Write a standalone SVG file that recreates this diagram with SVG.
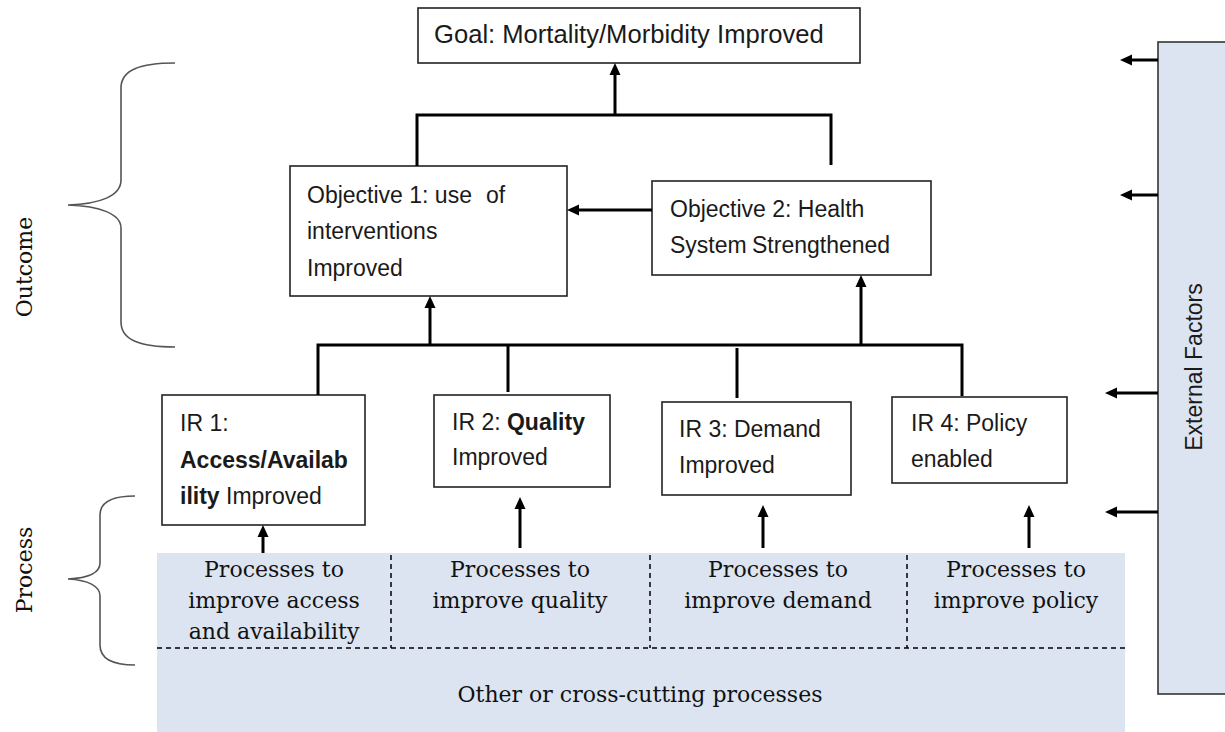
<svg xmlns="http://www.w3.org/2000/svg" width="1225" height="732" viewBox="0 0 1225 732">
<style>
.box{fill:#fff;stroke:#222;stroke-width:1.6}
.t{font-family:"Liberation Sans",Arial,sans-serif;font-size:23px;fill:#1a1a1a}
.b{font-weight:bold}
.s{font-family:"DejaVu Serif","Liberation Serif",serif;font-size:22px;fill:#111}
.c{fill:none;stroke:#000;stroke-width:3}
.d{fill:none;stroke:#000;stroke-width:1.5;stroke-dasharray:5 4}
.br{fill:none;stroke:#555;stroke-width:1.6}
.band{fill:#dbe4f0}
</style>
<defs>
<marker id="ah" viewBox="0 0 12 12" markerWidth="12" markerHeight="12" refX="5" refY="6" orient="auto" markerUnits="userSpaceOnUse">
<path d="M0,0.5 L12,6 L0,11.5 z" fill="#000"/>
</marker>
</defs>

<g id="process-band">
<rect class="band" x="157" y="553" width="968" height="179"/>
<line class="d" x1="157" y1="648" x2="1125" y2="648"/>
<line class="d" x1="391" y1="555" x2="391" y2="648"/>
<line class="d" x1="650" y1="555" x2="650" y2="648"/>
<line class="d" x1="907" y1="555" x2="907" y2="648"/>
<text class="s" text-anchor="middle"><tspan x="274" y="577">Processes to</tspan><tspan x="274" y="608">improve access</tspan><tspan x="274" y="639">and availability</tspan></text>
<text class="s" text-anchor="middle"><tspan x="520" y="577">Processes to</tspan><tspan x="520" y="608">improve quality</tspan></text>
<text class="s" text-anchor="middle"><tspan x="778" y="577">Processes to</tspan><tspan x="778" y="608">improve demand</tspan></text>
<text class="s" text-anchor="middle"><tspan x="1016" y="577">Processes to</tspan><tspan x="1016" y="608">improve policy</tspan></text>
<text class="s" x="640" y="702" text-anchor="middle">Other or cross-cutting processes</text>
</g>

<g id="external-factors">
<rect class="band" x="1158" y="42" width="80" height="652" stroke="#333" stroke-width="1.6"/>
<text class="t" transform="translate(1202,367) rotate(-90)" text-anchor="middle">External Factors</text>
</g>

<g id="outcome-brace">
<path class="br" d="M175,63 C140,63 121,70 121,88 L121,180 C121,196 100,204 68,205 C100,206 121,214 121,228 L121,322 C121,340 140,347 175,347"/>
<text class="s" transform="translate(32,267) rotate(-90)" text-anchor="middle">Outcome</text>
</g>

<g id="process-brace">
<path class="br" d="M135,496 C112,496 100,502 100,515 L100,563 C100,573 88,578 68,579 C88,580 100,586 100,596 L100,645 C100,658 112,665 135,665"/>
<text class="s" transform="translate(32,570) rotate(-90)" text-anchor="middle">Process</text>
</g>

<g id="goal">
<rect class="box" x="418" y="8" width="442" height="55"/>
<text class="t" x="434" y="43" style="font-size:25.6px">Goal: Mortality/Morbidity Improved</text>
</g>

<g id="objective1">
<rect class="box" x="290" y="166" width="277" height="130"/>
<text class="t"><tspan x="307" y="203">Objective 1: use</tspan><tspan x="486" y="203">of</tspan><tspan x="307" y="239">interventions</tspan><tspan x="307" y="276">Improved</tspan></text>
</g>

<g id="objective2">
<rect class="box" x="652" y="181" width="279" height="94"/>
<text class="t"><tspan x="670" y="217">Objective 2: Health</tspan><tspan x="670" y="253">System</tspan><tspan x="752" y="253">Strengthened</tspan></text>
</g>

<g id="ir1">
<rect class="box" x="162" y="395" width="203" height="130"/>
<text class="t"><tspan x="180" y="431">IR 1:</tspan><tspan x="180" y="468" class="b">Access/Availab</tspan><tspan x="180" y="504" class="b">ility</tspan><tspan> Improved</tspan></text>
</g>

<g id="ir2">
<rect class="box" x="434" y="395" width="176" height="92"/>
<text class="t"><tspan x="452" y="430">IR 2: </tspan><tspan class="b">Quality</tspan><tspan x="452" y="465">Improved</tspan></text>
</g>

<g id="ir3">
<rect class="box" x="662" y="402" width="189" height="93"/>
<text class="t"><tspan x="679" y="437">IR 3: Demand</tspan><tspan x="679" y="473">Improved</tspan></text>
</g>

<g id="ir4">
<rect class="box" x="892" y="397" width="175" height="86"/>
<text class="t"><tspan x="911" y="431">IR 4: Policy</tspan><tspan x="911" y="467">enabled</tspan></text>
</g>

<g id="connectors">
<line class="c" x1="615" y1="115" x2="615" y2="70" marker-end="url(#ah)"/>
<path class="c" d="M417,166 V115 H831 V165"/>
<line class="c" x1="652" y1="210" x2="574" y2="210" marker-end="url(#ah)"/>
<path class="c" d="M318,395 V345 H962 V396"/>
<line class="c" x1="508" y1="345" x2="508" y2="392"/>
<line class="c" x1="737" y1="348" x2="737" y2="398"/>
<line class="c" x1="430" y1="345" x2="430" y2="303" marker-end="url(#ah)"/>
<line class="c" x1="861" y1="345" x2="861" y2="282" marker-end="url(#ah)"/>
<line class="c" x1="263" y1="553" x2="263" y2="532" marker-end="url(#ah)"/>
<line class="c" x1="520" y1="548" x2="520" y2="504" marker-end="url(#ah)"/>
<line class="c" x1="763" y1="548" x2="763" y2="512" marker-end="url(#ah)"/>
<line class="c" x1="1029" y1="548" x2="1029" y2="512" marker-end="url(#ah)"/>
<line class="c" x1="1158" y1="60" x2="1127" y2="60" marker-end="url(#ah)"/>
<line class="c" x1="1158" y1="195" x2="1127" y2="195" marker-end="url(#ah)"/>
<line class="c" x1="1158" y1="393" x2="1112" y2="393" marker-end="url(#ah)"/>
<line class="c" x1="1158" y1="512" x2="1112" y2="512" marker-end="url(#ah)"/>
</g>
</svg>
